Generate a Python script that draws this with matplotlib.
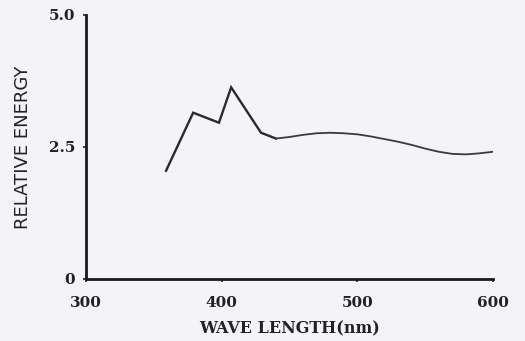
import matplotlib
matplotlib.use("Agg")
import matplotlib.pyplot as plt

# Data
wl_peaks = [359, 379, 398, 407, 429, 440]
energy_peaks = [2.05, 3.15, 2.96, 3.63, 2.77, 2.66]

wl_smooth = [440, 450, 460, 470, 480, 490, 500, 510, 520, 530, 540, 550, 560, 570, 580, 590, 600]
energy_smooth = [2.66, 2.69, 2.73, 2.76, 2.77, 2.76, 2.74, 2.70, 2.65, 2.60, 2.54, 2.47, 2.41, 2.37, 2.36, 2.38, 2.41]

xticks = [300, 400, 500, 600]
xtick_labels = ["300", "400", "500", "600"]
yticks = [0, 2.5, 5.0]
ytick_labels = ["0", "2.5", "5.0"]

bg = "#f4f3f8"
fig = plt.figure(figsize=(5.25, 3.41), dpi=100, facecolor=bg)
ax = fig.add_axes([86/525, 1-279/341, (493-86)/525, (279-15)/341])
ax.set_facecolor(bg)

ax.plot(wl_peaks, energy_peaks, color="#2a2a2a", lw=1.7, solid_joinstyle="miter")
ax.plot(wl_smooth, energy_smooth, color="#3a3a3a", lw=1.3)

ax.set_xlim(300, 600)
ax.set_ylim(0, 5.0)
for s in ["top", "right"]:
    ax.spines[s].set_visible(False)
for s in ["left", "bottom"]:
    ax.spines[s].set_linewidth(2.0)
    ax.spines[s].set_color("#1a1a1a")

serif = ["DejaVu Serif"]
ax.set_xticks(xticks)
ax.set_xticklabels(xtick_labels, fontfamily=serif, fontweight="bold", fontsize=11, color="#222222")
ax.set_yticks(yticks)
ax.set_yticklabels(ytick_labels, fontfamily=serif, fontweight="bold", fontsize=11, color="#222222")
ax.tick_params(axis="x", direction="out", length=2, width=1.2, pad=10, colors="#222222")
ax.tick_params(axis="y", direction="out", length=2, width=1.2, pad=6, colors="#222222")

ax.set_xlabel("WAVE LENGTH(nm)", fontfamily=serif, fontweight="bold", fontsize=11.5, color="#222222", labelpad=8)
ax.set_ylabel("RELATIVE ENERGY", fontfamily=["DejaVu Sans"], fontsize=13, color="#222222", labelpad=12)

fig.savefig("out.png", dpi=100, facecolor=bg)
